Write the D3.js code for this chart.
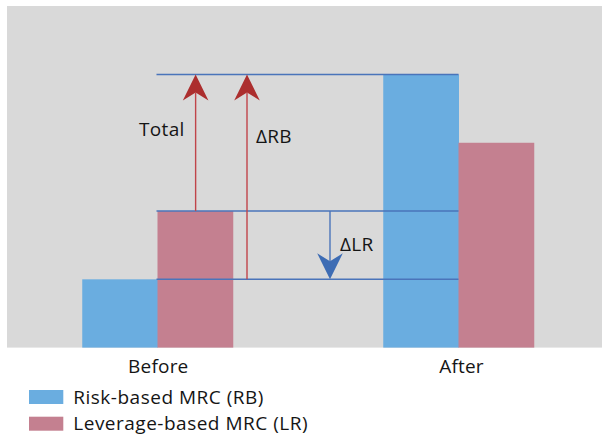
<!DOCTYPE html>
<html><head><meta charset="utf-8">
<script src="https://cdn.jsdelivr.net/npm/d3@7"></script>
<style>body{margin:0;background:#fff}svg{display:block}text{font-family:"Open Sans",sans-serif;fill:#151515}</style>
</head><body><svg id="c" width="602" height="437"></svg>
<script>
const categories = ["Before", "After"];
const seriesNames = ["Risk-based MRC (RB)", "Leverage-based MRC (LR)"];
const rbValues = [1, 4];
const lrValues = [2, 3];
const levelValues = [4, 2, 1];
const arrowLabels = ["Total", "ΔRB", "ΔLR"];
const arrowFrom = [2, 1, 2];
const arrowTo = [4, 4, 1];

const svg = d3.select("#c");
const colors = ["#6aade0", "#c48090"];
const x = d3.scaleBand().domain(categories).range([7, 609]).paddingInner(0.5).paddingOuter(0.25);
const xs = d3.scaleBand().domain([0, 1]).range([0, x.bandwidth()]);
const y = d3.scaleLinear().domain([0, 5]).range([347.6, 6.2]);

svg.append("rect").attr("x", 7).attr("y", 6).attr("width", 595).attr("height", 341.6).attr("fill", "#d9d9d9");

const data = categories.map((c, i) => ({c, v: [rbValues[i], lrValues[i]]}));
const g = svg.append("g").selectAll("g").data(data).join("g").attr("transform", d => `translate(${x(d.c)},0)`);
g.selectAll("rect").data(d => d.v.map((v, k) => ({v, k}))).join("rect")
  .attr("x", d => xs(d.k)).attr("width", xs.bandwidth() + 0.5)
  .attr("y", d => y(d.v)).attr("height", d => y(0) - y(d.v)).attr("fill", d => colors[d.k]);

// level lines
const lx0 = x("Before") + xs(1) - 1, lx1 = x("After") + xs(1);
svg.append("g").selectAll("line").data(levelValues).join("line")
  .attr("x1", lx0).attr("x2", lx1).attr("y1", d => y(d)).attr("y2", d => y(d))
  .attr("stroke", "#4a74ba").attr("stroke-width", 1.6);

// arrows
const arrowX = [x("Before") + xs(1) + xs.bandwidth() / 2 + 0.5, x("Before") + xs(1) + 89.5, x("Before") + xs(1) + 172.5];
const arrowCol = ["#c0444a", "#c0444a", "#4a74ba"];
const headCol = ["#ac2e2e", "#ac2e2e", "#3d6cb4"];
arrowFrom.forEach((f, i) => {
  const ax = arrowX[i], y0 = y(f), y1 = y(arrowTo[i]);
  const dir = y1 < y0 ? 1 : -1; // 1 = up
  const hl = 26, notch = 18, hw = 12.8;
  svg.append("line").attr("x1", ax).attr("x2", ax).attr("y1", y0).attr("y2", y1 + dir * notch)
    .attr("stroke", arrowCol[i]).attr("stroke-width", 1.4);
  svg.append("path").attr("d", `M${ax},${y1} L${ax - hw},${y1 + dir * hl} L${ax},${y1 + dir * notch} L${ax + hw},${y1 + dir * hl} Z`)
    .attr("fill", headCol[i]);
});
const labelPos = [[arrowX[0] - 11, 136], [arrowX[1] + 9, 142.7], [arrowX[2] + 10, 250.7]];
svg.append("g").selectAll("text").data(arrowLabels).join("text")
  .attr("x", (d, i) => labelPos[i][0]).attr("y", (d, i) => labelPos[i][1])
  .attr("text-anchor", (d, i) => i === 0 ? "end" : "start")
  .style("font-size", "19px").style("letter-spacing", "0.3px").text(d => d);

// x axis labels
svg.append("g").selectAll("text").data(categories).join("text")
  .attr("x", d => x(d) + x.bandwidth() / 2 + (d === "After" ? 3 : 0.8)).attr("y", 372.7)
  .attr("text-anchor", "middle").style("font-size", "19px").style("letter-spacing", "0.2px").text(d => d);

// legend
const lg = svg.append("g").selectAll("g").data(seriesNames).join("g")
  .attr("transform", (d, i) => `translate(29,${390 + i * 26.7})`);
lg.append("rect").attr("width", 34.3).attr("height", 14).attr("fill", (d, i) => colors[i]);
lg.append("text").attr("x", 44.3).attr("y", 13.5).style("font-size", "19px").style("letter-spacing", "0.5px").text(d => d);
</script></body></html>
